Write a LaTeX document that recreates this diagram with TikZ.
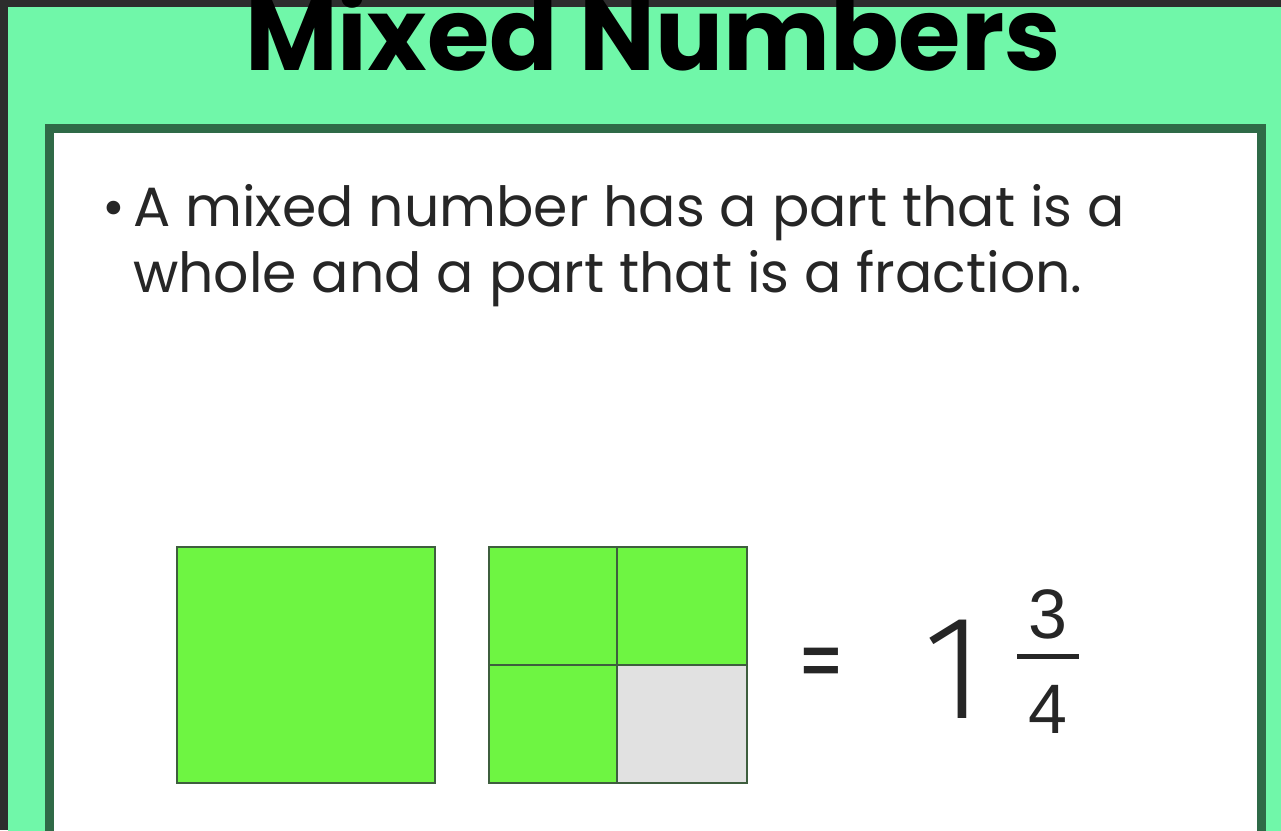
\documentclass[tikz,border=0pt]{standalone}
\usepackage{fontspec}
\setmainfont{Poppins}
\newfontfamily\digitfont{Fira Sans}[UprightFont=* Light]
\newfontfamily\eqfont{Liberation Sans}
\definecolor{frame}{HTML}{2D2D2D}
\definecolor{bggreen}{HTML}{70F7A9}
\definecolor{boxedge}{HTML}{2F6A47}
\definecolor{sqgreen}{HTML}{6EF542}
\definecolor{sqedge}{HTML}{3E5E3E}
\definecolor{emptyq}{HTML}{E1E1E1}
\definecolor{txt}{HTML}{262626}
\tikzset{
  piece/.style={draw=sqedge, line width=2.5pt, fill=sqgreen, minimum width=#1, inner sep=0pt},
  bodytext/.style={anchor=base west, inner sep=0pt, text=txt, font=\fontsize{55.3}{62}\selectfont},
  fracdigit/.style={anchor=base, inner sep=0pt, text=txt, font=\eqfont\fontsize{70}{80}\selectfont},
}
\begin{document}
\begin{tikzpicture}[x=1pt,y=-1pt]
\useasboundingbox (0,0) rectangle (1281,830);
\clip (0,0) rectangle (1281,830);
\fill[frame] (0,0) rectangle (1281,830);
\fill[bggreen] (8,7) rectangle (1290,840);
\draw[line width=9pt, draw=boxedge, fill=white] (49,128) rectangle (1261,860);
% title
\node[anchor=base west, inner sep=0pt, font=\bfseries\fontsize{101}{110}\selectfont] (title) at (245,70) {Mixed Numbers};
% bullet text
\node[bodytext] (bullet) at (102,226) {•};
\node[bodytext] (line1) at (133,226) {A mixed number has a part that is a};
\node[bodytext] (line2) at (133,292) {whole and a part that is a fraction.};
% whole square
\node[piece=258pt, minimum height=236pt] (whole) at (306,665) {};
% quartered square
\node[piece=128pt, minimum height=118pt] (q1) at (553,606) {};
\node[piece=130pt, minimum height=118pt] (q2) at (682,606) {};
\node[piece=128pt, minimum height=118pt] (q3) at (553,724) {};
\node[piece=130pt, minimum height=118pt, fill=emptyq] (q4) at (682,724) {};
% equals and mixed number
\node[inner sep=0pt, text=txt, font=\eqfont\bfseries\fontsize{68}{80}\selectfont] (eq) at (821,666) {=};
\node[anchor=base, inner sep=0pt, text=txt, font=\digitfont\fontsize{148}{150}\selectfont] (one) at (954,718) {1};
\node[fracdigit] (num) at (1048,638) {3};
\node[fracdigit] (den) at (1048,733) {4};
\coordinate (barL) at (1017,656);
\coordinate (barR) at (1079,656);
\draw[line width=5pt, txt] (barL) -- (barR);
\end{tikzpicture}
\end{document}
